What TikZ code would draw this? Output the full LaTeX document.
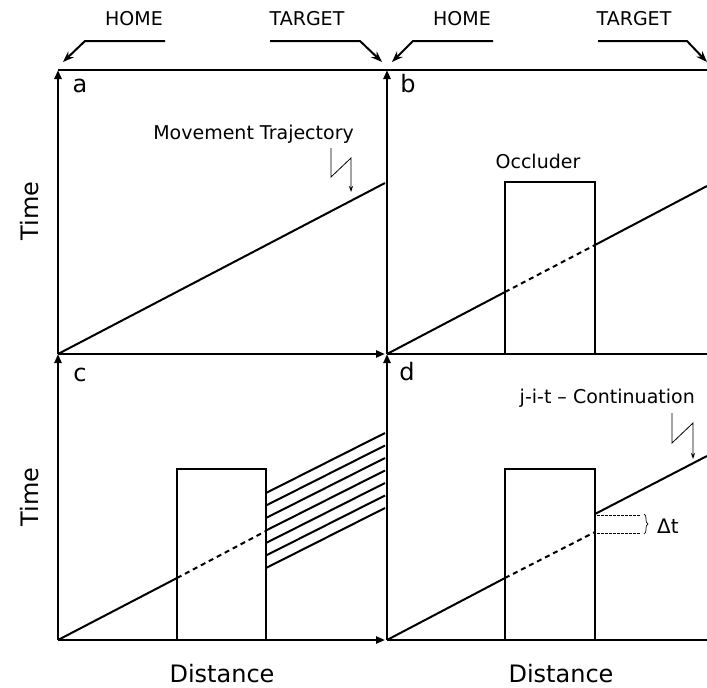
\documentclass[tikz,border=0pt]{standalone}
\usepackage{fontspec}
\setmainfont{DejaVu Sans}
\usetikzlibrary{arrows.meta,decorations.pathreplacing}
\begin{document}
\begin{tikzpicture}[x=1pt,y=-1pt,
  axis/.style={line width=2.2pt,-{Triangle[length=9pt,width=7pt]}},
  frame/.style={line width=2.2pt},
  traj/.style={line width=2pt},
  hidden/.style={line width=2pt,dash pattern=on 5pt off 4pt},
  occl/.style={line width=2pt},
  pointer/.style={line width=2pt,-{Stealth[length=11pt,width=8pt]}},
  bolt/.style={line width=0.8pt,-{Stealth[length=6pt,width=4pt]}},
  lbl/.style={font=\fontsize{19}{21}\selectfont,inner sep=0pt},
  big/.style={font=\fontsize{24}{26}\selectfont,inner sep=0pt},
  panel/.style={font=\fontsize{24}{26}\selectfont,inner sep=0pt,anchor=base}]
\useasboundingbox (0,0) rectangle (707,688);
% corner coordinates
\coordinate (TL) at (58,70);
\coordinate (TM) at (387,70);
\coordinate (TR) at (707,70);
\coordinate (ML) at (58,354);
\coordinate (MM) at (387,354);
\coordinate (MMa) at (385,354);
\coordinate (MR) at (707,354);
\coordinate (BL) at (58,640);
\coordinate (BM) at (387,640);
\coordinate (BMa) at (385,640);
\coordinate (BR) at (707,640);
% frame and axes
\draw[frame] (TL) -- (TR);
\draw[axis] (ML) -- (TL);
\draw[axis] (MM) -- (TM);
\draw[axis] (BL) -- (ML);
\draw[axis] (BM) -- (MM);
\draw[axis] (ML) -- (MMa);
\draw[frame] (MM) -- (MR);
\draw[axis] (BL) -- (BMa);
\draw[frame] (BM) -- (BR);
% top labels and pointers
\node[lbl,anchor=base] (homeA) at (134,25) {HOME};
\node[lbl,anchor=base] (targA) at (307,25) {TARGET};
\node[lbl,anchor=base] (homeB) at (462,25) {HOME};
\node[lbl,anchor=base] (targB) at (634,25) {TARGET};
\coordinate (hA0) at (165,41); \coordinate (hA1) at (85,41); \coordinate (hA2) at (63,62);
\coordinate (tA0) at (270,41); \coordinate (tA1) at (360,41); \coordinate (tA2) at (382,62);
\coordinate (hB0) at (493,41); \coordinate (hB1) at (413,41); \coordinate (hB2) at (392,62);
\coordinate (tB0) at (598,41); \coordinate (tB1) at (687,41); \coordinate (tB2) at (707,62);
\draw[pointer] (hA0) -- (hA1) -- (hA2);
\draw[pointer] (tA0) -- (tA1) -- (tA2);
\draw[pointer] (hB0) -- (hB1) -- (hB2);
\draw[pointer] (tB0) -- (tB1) -- (tB2);
% panel letters
\node[panel] (la) at (80,92) {a};
\node[panel] (lb) at (408,92) {b};
\node[panel] (lc) at (80,381) {c};
\node[panel] (ld) at (407,380) {d};
% axis titles
\node[big,rotate=90] (time1) at (30,211) {Time};
\node[big,rotate=90] (time2) at (30,497) {Time};
\node[big,anchor=base] (dist1) at (222,682) {Distance};
\node[big,anchor=base] (dist2) at (561,682) {Distance};
% panel a
\coordinate (aEnd) at (385,183);
\draw[traj] (ML) -- (aEnd);
\node[lbl,anchor=base east] (mt) at (354,139) {Movement Trajectory};
\coordinate (za0) at (331,148); \coordinate (za1) at (331,177);
\coordinate (za2) at (351,158); \coordinate (za3) at (351,192);
\draw[bolt] (za0) -- (za1) -- (za2) -- (za3);
% panel b
\coordinate (bO1) at (505,354); \coordinate (bO2) at (505,182);
\coordinate (bO3) at (595,182); \coordinate (bO4) at (595,354);
\draw[occl] (bO1) -- (bO2) -- (bO3) -- (bO4);
\node[lbl,anchor=base] (occ) at (538,168) {Occluder};
\coordinate (bIn) at (505,292); \coordinate (bOut) at (595,245); \coordinate (bEnd) at (707,186);
\draw[traj] (MM) -- (bIn);
\draw[hidden] (bIn) -- (bOut);
\draw[traj] (bOut) -- (bEnd);
% panel c
\coordinate (cO1) at (177,640); \coordinate (cO2) at (177,469);
\coordinate (cO3) at (266,469); \coordinate (cO4) at (266,640);
\draw[occl] (cO1) -- (cO2) -- (cO3) -- (cO4);
\coordinate (cIn) at (177,578); \coordinate (cOut) at (266,531);
\draw[traj] (BL) -- (cIn);
\draw[hidden] (cIn) -- (cOut);
\foreach \k in {0,...,6}{
  \coordinate (cs\k) at (266,{493+12.5*\k});
  \coordinate (ce\k) at (385,{433+12.5*\k});
  \draw[traj] (cs\k) -- (ce\k);
}
% panel d
\coordinate (dO1) at (505,640); \coordinate (dO2) at (505,469);
\coordinate (dO3) at (595,469); \coordinate (dO4) at (595,640);
\draw[occl] (dO1) -- (dO2) -- (dO3) -- (dO4);
\coordinate (dIn) at (505,578); \coordinate (dOut) at (595,532);
\draw[traj] (BM) -- (dIn);
\draw[hidden] (dIn) -- (dOut);
\coordinate (dC0) at (595,514); \coordinate (dC1) at (707,456);
\draw[traj] (dC0) -- (dC1);
\coordinate (q1a) at (597,515); \coordinate (q1b) at (641,515);
\coordinate (q2a) at (597,533); \coordinate (q2b) at (641,533);
\draw[line width=1pt,dash pattern=on 2.5pt off 1.5pt] (q1a) -- (q1b);
\draw[line width=1pt,dash pattern=on 2.5pt off 1.5pt] (q2a) -- (q2b);
\coordinate (br1) at (644,514); \coordinate (br2) at (644,534);
\draw[line width=0.7pt,decorate,decoration={brace,amplitude=4pt}] (br1) -- (br2);
\node[font=\fontsize{20}{22}\selectfont,inner sep=0pt,anchor=base] (dt) at (668,533) {Δt};
\node[lbl,anchor=base east] (jit) at (695,403) {j-i-t – Continuation};
\coordinate (zd0) at (672,413); \coordinate (zd1) at (672,443);
\coordinate (zd2) at (693,423); \coordinate (zd3) at (693,459);
\draw[bolt] (zd0) -- (zd1) -- (zd2) -- (zd3);
\end{tikzpicture}
\end{document}
